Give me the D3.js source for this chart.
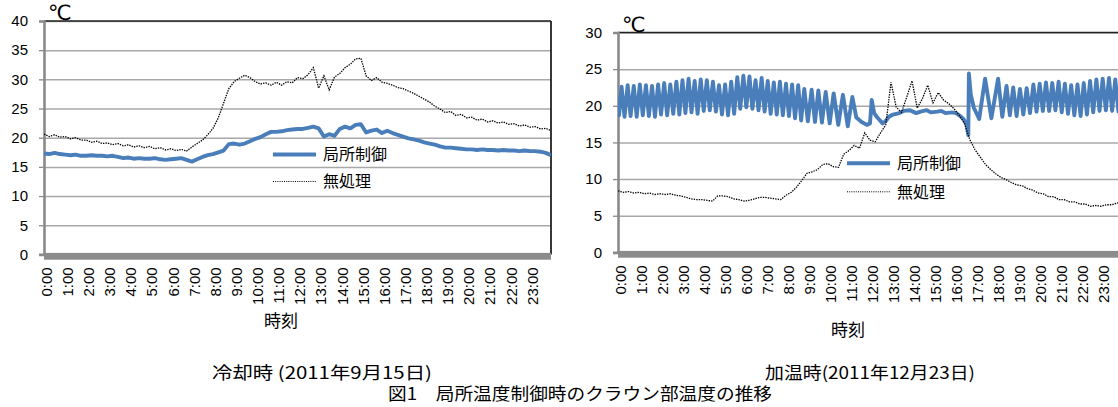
<!DOCTYPE html>
<meta charset="utf-8">
<head>
<style>
  body { margin: 0; background: #fff; }
  svg { display: block; }
  .num { font-family: "Liberation Sans", Arial, sans-serif; font-size: 15px; fill: #000; }
  .jp { font-family: "Noto Sans CJK JP", sans-serif; fill: #000; }
  .unit { font-family: "DejaVu Sans", sans-serif; fill: #000; }
</style>
</head>
<body>
<svg id="chart" width="1118" height="407"></svg>
<script src="https://d3js.org/d3.v7.min.js"></script>
<script>
// tick labels
var hourTicks = ["0:00","1:00","2:00","3:00","4:00","5:00","6:00","7:00","8:00","9:00","10:00","11:00",
                 "12:00","13:00","14:00","15:00","16:00","17:00","18:00","19:00","20:00","21:00","22:00","23:00"];
var coolTicks = [0, 5, 10, 15, 20, 25, 30, 35, 40];
var heatTicks = [0, 5, 10, 15, 20, 25, 30];
var seriesNames = ["局所制御", "無処理"];

// cooling day, readings every 15 min from 0:00 to 24:00
var coolCtrl = [
  17.3, 17.2, 17.4, 17.2,  17.1, 17.0, 17.1, 16.9,  16.9, 17.0, 16.9, 16.9,  16.8, 16.9, 16.7, 16.5,
  16.6, 16.4, 16.5, 16.4,  16.4, 16.5, 16.3, 16.2,  16.3, 16.4, 16.5, 16.2,  15.9, 16.3, 16.7, 17.0,
  17.2, 17.5, 17.8, 18.9,  19.0, 18.8, 19.0, 19.4,  19.8, 20.1, 20.6, 21.0,  21.0, 21.1, 21.3, 21.4,
  21.5, 21.5, 21.7, 21.9,  21.6, 20.2, 20.6, 20.3,  21.5, 21.9, 21.6, 22.2,  22.3, 20.9, 21.2, 21.4,
  20.8, 21.2, 20.8, 20.5,  20.2, 19.9, 19.7, 19.5,  19.2, 19.0, 18.8, 18.5,  18.3, 18.3, 18.2, 18.1,
  18.0, 18.0, 17.9, 18.0,  17.9, 17.9, 17.8, 17.9,  17.8, 17.8, 17.7, 17.8,  17.7, 17.7, 17.6, 17.4,
  17.0
];
var coolNone = [
  20.6, 20.2, 20.5, 20.1,  20.2, 19.8, 20.0, 19.6,  19.6, 19.2, 19.4, 19.0,  19.1, 18.8, 19.0, 18.6,
  18.8, 18.4, 18.6, 18.3,  18.5, 18.1, 18.3, 17.9,  18.1, 17.8, 18.0, 17.7,  18.4, 19.0, 19.6, 20.5,
  21.6, 23.4, 25.9, 28.4,  29.6, 30.2, 30.7, 30.3,  29.6, 29.2, 29.4, 29.0,  29.5, 29.0, 29.6, 29.4,
  30.3, 30.1, 30.8, 32.0,  28.5, 30.6, 28.2, 30.4,  31.0, 32.0, 32.6, 33.5,  33.6, 30.6, 29.8, 30.3,
  29.5, 29.3, 29.0, 28.6,  28.4, 28.0, 27.6, 27.1,  26.6, 26.1, 25.4, 24.9,  24.3, 24.5, 23.8, 24.0,
  23.4, 23.5, 23.0, 23.2,  22.7, 22.9, 22.5, 22.7,  22.3, 22.4, 22.0, 22.2,  21.8, 21.9, 21.5, 21.6,
  21.2
];

// heating day: no treatment, every 15 min
var heatNone = [
  8.4, 8.2, 8.3, 8.1,  8.2, 8.0, 8.1, 7.9,  8.0, 7.9, 8.0, 7.8,  7.7, 7.5, 7.3, 7.2,
  7.2, 7.1, 7.0, 7.7,  7.7, 7.6, 7.3, 7.2,  7.0, 7.1, 7.3, 7.5,  7.5, 7.4, 7.3, 7.2,
  7.8, 8.2, 8.9, 9.8,  10.8, 11.0, 11.3, 12.0,  12.1, 11.7, 11.6, 13.4,  13.9, 14.6, 14.2, 16.3,
  15.3, 15.1, 16.3, 17.4,  23.2, 19.8, 19.1, 21.2,  23.4, 19.7, 21.0, 22.8,  20.4, 21.8, 20.8, 20.3,
  19.6, 18.7, 17.6, 15.4,  14.0, 13.0, 12.0, 11.3,  10.7, 10.2, 9.9, 9.5,  9.2, 9.1, 8.7, 8.5,
  8.1, 8.0, 7.6, 7.6,  7.2, 7.2, 6.9, 6.9,  6.6, 6.6, 6.3, 6.4,  6.3, 6.5, 6.5, 6.7,
  6.9
];

// heating day: local control, read at each peak and trough [hour, temp]
var heatCtrl = [
  [0.00,21.2],[0.05,18.7],[0.17,22.6],[0.31,18.5],[0.46,22.8],[0.60,18.6],[0.75,22.7],[0.89,18.5],
  [1.04,22.9],[1.18,18.7],[1.33,22.8],[1.47,18.6],[1.62,22.7],[1.76,18.5],[1.91,22.9],[2.05,18.8],
  [2.20,23.1],[2.34,18.7],[2.49,22.9],[2.63,18.9],[2.78,23.3],[2.92,18.8],[3.07,23.5],[3.21,19.0],
  [3.36,23.7],[3.50,19.1],[3.65,23.4],[3.79,18.9],[3.94,23.6],[4.08,19.3],[4.23,23.5],[4.37,19.4],
  [4.52,23.3],[4.66,19.2],[4.81,22.8],[4.95,18.8],[5.10,22.9],[5.24,18.7],[5.39,23.3],[5.53,18.9],
  [5.68,23.9],[5.82,19.6],[5.97,24.1],[6.11,19.8],[6.26,24.0],[6.40,19.6],[6.55,23.5],[6.69,19.4],
  [6.84,23.8],[6.98,19.2],[7.13,23.4],[7.27,18.9],[7.42,23.2],[7.56,18.8],[7.71,23.3],[7.85,18.7],
  [8.00,23.0],[8.14,18.6],[8.29,22.9],[8.43,18.3],[8.58,22.8],[8.72,18.0],[8.87,22.3],[9.04,17.9],
  [9.22,22.2],[9.38,17.8],[9.54,22.1],[9.71,17.7],[9.89,21.9],[10.08,17.6],[10.27,21.7],[10.49,17.4],
  [10.71,21.5],[10.94,17.2],[11.16,21.2],[11.35,18.4],[11.60,17.8],[11.85,17.4],[12.00,17.6],[12.08,20.8],
  [12.20,19.0],[12.35,18.4],[12.60,17.6],[12.75,17.9],[12.90,18.5],[13.10,18.8],[13.40,19.0],[13.60,19.3],
  [13.90,19.4],[14.20,19.0],[14.40,19.2],[14.70,19.4],[14.90,19.1],[15.20,19.2],[15.40,19.3],[15.60,19.0],
  [15.90,19.1],[16.10,19.0],[16.30,18.6],[16.45,18.2],[16.60,17.4],[16.68,16.0],[16.71,24.4],[16.80,21.5],
  [16.95,19.7],[17.20,18.2],[17.48,23.7],[17.78,18.3],[18.10,23.7],[18.30,18.5],[18.50,22.7],[18.66,18.7],
  [18.82,22.5],[18.98,18.6],[19.14,22.3],[19.30,18.8],[19.46,22.4],[19.62,19.0],[19.78,22.9],[19.93,19.2],
  [20.08,23.0],[20.23,19.3],[20.38,23.2],[20.53,19.3],[20.68,23.1],[20.83,19.4],[20.98,23.3],[21.13,19.1],
  [21.28,23.0],[21.43,18.9],[21.58,22.8],[21.73,18.7],[21.88,22.9],[22.03,18.6],[22.18,23.1],[22.33,18.8],
  [22.48,23.4],[22.63,19.1],[22.78,23.6],[22.93,19.3],[23.08,23.7],[23.23,19.4],[23.38,23.8],[23.53,19.3],
  [23.68,23.6],[23.83,19.2],[23.98,23.4]
];

var BLUE = "#4a7ebb";
var svg = d3.select("#chart");

function drawChart(opt) {
  var x = d3.scaleLinear().domain([0, 24]).range([opt.left, opt.right]);
  var y = d3.scaleLinear().domain([0, opt.ymax]).range([opt.bottom, opt.top]);
  var g = svg.append("g");

  // gridlines
  g.append("g")
    .attr("transform", "translate(" + opt.left + ",0)")
    .call(d3.axisLeft(y).tickValues(opt.ticks).tickSize(-(opt.gridRight - opt.left)).tickFormat(""))
    .call(function(a) {
      a.select(".domain").remove();
      a.selectAll("line").attr("stroke", "#a8a8a8").attr("stroke-width", 1.5);
    });

  // top border (and right border on left chart)
  g.append("line").attr("x1", opt.left).attr("x2", opt.gridRight)
    .attr("y1", y(opt.ymax)).attr("y2", y(opt.ymax))
    .attr("stroke", "#222").attr("stroke-width", 1.6);
  if (opt.rightBorder) {
    g.append("line").attr("x1", opt.right).attr("x2", opt.right)
      .attr("y1", y(opt.ymax)).attr("y2", y(0))
      .attr("stroke", "#222").attr("stroke-width", 1.8);
  }

  // floor band
  g.append("rect").attr("x", opt.left).attr("y", y(0) - 1.5)
    .attr("width", opt.gridRight - opt.left).attr("height", 6.8)
    .attr("fill", "#8c8c8c");

  // y axis
  g.append("g")
    .attr("transform", "translate(" + opt.left + ",0)")
    .call(d3.axisLeft(y).tickValues(opt.ticks).tickSize(5).tickPadding(11))
    .call(function(a) {
      a.select(".domain").attr("stroke", "#8a8a8a").attr("stroke-width", 2.6);
      a.selectAll("line").attr("stroke", "#8a8a8a").attr("stroke-width", 1.3);
      a.selectAll("text").attr("class", "num").attr("font-family", null).attr("font-size", null);
    });

  // x axis labels
  g.append("g")
    .attr("transform", "translate(0," + (y(0) + 13) + ")")
    .call(d3.axisBottom(x).tickValues(d3.range(24)).tickSize(0).tickFormat(function(d) { return hourTicks[d]; }))
    .call(function(a) {
      a.select(".domain").remove();
      a.selectAll("text")
        .attr("class", "num").attr("font-family", null).attr("font-size", null)
        .attr("transform", "rotate(-90)")
        .attr("x", 0).attr("y", 2).attr("dy", "0.35em")
        .attr("text-anchor", "end");
    });

  // series
  var clipId = "clip" + opt.id;
  svg.append("clipPath").attr("id", clipId).append("rect")
    .attr("x", opt.left).attr("y", opt.top - 10).attr("width", opt.gridRight - opt.left).attr("height", opt.bottom - opt.top + 10);

  var line = d3.line().x(function(d) { return x(d[0]); }).y(function(d) { return y(d[1]); });
  g.append("path").datum(opt.ctrl)
    .attr("clip-path", "url(#" + clipId + ")")
    .attr("d", line).attr("fill", "none")
    .attr("stroke", BLUE).attr("stroke-width", 3.9).attr("stroke-linejoin", "round");
  g.append("path").datum(opt.none)
    .attr("clip-path", "url(#" + clipId + ")")
    .attr("d", line).attr("fill", "none")
    .attr("stroke", "#000").attr("stroke-width", 1.3).attr("stroke-dasharray", "1.4,1.1");

  // legend
  var lg = g.append("g").attr("transform", "translate(" + opt.legX + "," + opt.legY + ")");
  lg.append("line").attr("x1", 0).attr("x2", 43).attr("y1", 0).attr("y2", 0)
    .attr("stroke", BLUE).attr("stroke-width", 4);
  lg.append("line").attr("x1", 0).attr("x2", 43).attr("y1", opt.legGap).attr("y2", opt.legGap)
    .attr("stroke", "#000").attr("stroke-width", 1).attr("stroke-dasharray", "1,1.2");
  lg.selectAll("text").data(seriesNames).join("text")
    .attr("class", "jp").attr("font-size", 16)
    .attr("x", 50).attr("y", function(d, i) { return i * opt.legGap; })
    .attr("dy", "0.36em")
    .text(function(d) { return d; });

  // unit
  g.append("text").attr("class", "unit").attr("font-size", 21)
    .attr("x", opt.left + 4).attr("y", y(opt.ymax) - 1).text("℃");

  // axis title
  g.append("text").attr("class", "jp").attr("font-size", 17)
    .attr("x", opt.titleX).attr("y", opt.titleY).attr("text-anchor", "middle")
    .attr("dy", "0.36em").text("時刻");
}

var coolRows = coolCtrl.map(function(v, i) { return [i * 0.25, v]; });
var coolRowsNone = coolNone.map(function(v, i) { return [i * 0.25, v]; });
var heatRowsNone = heatNone.map(function(v, i) { return [i * 0.25, v]; });

drawChart({
  id: 1, left: 44, right: 551, gridRight: 551, top: 21, bottom: 254.4, ymax: 40, ticks: coolTicks,
  rightBorder: true, ctrl: coolRows, none: coolRowsNone,
  legX: 273, legY: 154.5, legGap: 27, titleX: 281, titleY: 321
});
drawChart({
  id: 2, left: 618, right: 1122, gridRight: 1118, top: 32.5, bottom: 252.4, ymax: 30, ticks: heatTicks,
  rightBorder: false, ctrl: heatCtrl, none: heatRowsNone,
  legX: 847, legY: 163.3, legGap: 28.5, titleX: 848, titleY: 330
});

// captions
svg.append("text").attr("class", "jp").attr("font-size", 17)
  .attr("x", 212).attr("y", 373).attr("dy", "0.36em")
  .attr("textLength", 220).attr("lengthAdjust", "spacingAndGlyphs")
  .text("冷却時 (2011年9月15日)");
svg.append("text").attr("class", "jp").attr("font-size", 17)
  .attr("x", 765).attr("y", 373).attr("dy", "0.36em")
  .attr("textLength", 210).attr("lengthAdjust", "spacingAndGlyphs")
  .text("加温時(2011年12月23日)");
svg.append("text").attr("class", "jp").attr("font-size", 17)
  .attr("x", 388).attr("y", 394).attr("dy", "0.36em")
  .attr("textLength", 384).attr("lengthAdjust", "spacingAndGlyphs")
  .text("図1　局所温度制御時のクラウン部温度の推移");
</script>
</body>
</html>
